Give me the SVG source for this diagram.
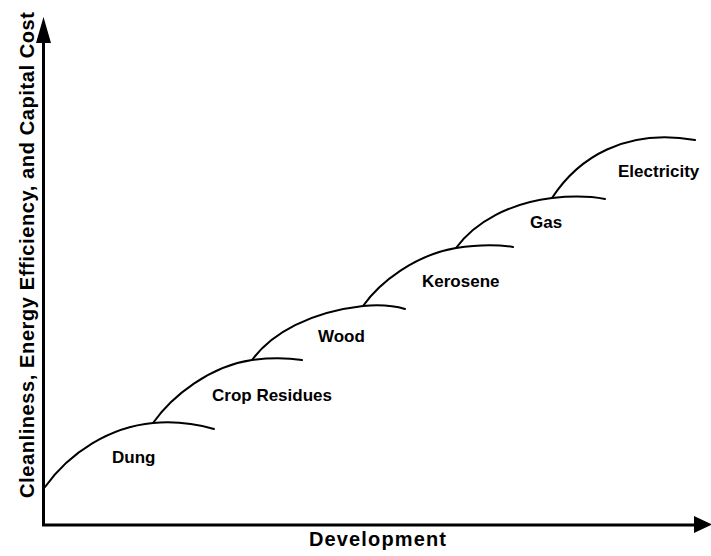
<svg xmlns="http://www.w3.org/2000/svg" width="711" height="556" viewBox="0 0 711 556">
  <style>
    .axis { stroke: #000; stroke-width: 3; fill: none; }
    .curve { stroke: #000; stroke-width: 2; fill: none; stroke-linecap: round; }
    .label { font-family: "Liberation Sans", Arial, sans-serif; font-weight: bold; font-size: 17px; fill: #000; }
    .axis-title { font-family: "Liberation Sans", Arial, sans-serif; font-weight: bold; font-size: 20px; fill: #000; }
  </style>
  <rect width="711" height="556" fill="#fff"/>

  <!-- axes -->
  <g id="axes">
    <path class="axis" d="M43.5,40 L43.5,525 L697,525"/>
    <polygon points="43.5,17 36,43 51,43" fill="#000"/>
    <polygon points="712,524.5 694,516 694,533" fill="#000"/>
    <text class="axis-title" transform="translate(34,498) rotate(-90)" textLength="486" lengthAdjust="spacing">Cleanliness, Energy Efficiency, and Capital Cost</text>
    <text class="axis-title" x="309" y="546" textLength="137" lengthAdjust="spacing">Development</text>
  </g>

  <!-- fuel ladder curves -->
  <g id="connectors">
    <path class="curve" d="M45,487 C70,452 110,427 153,423 C180,420.5 200,425 214,429"/>
    <path class="curve" d="M153,423 C172,396 210,366 252,360 C272,357.5 288,358 302,360"/>
    <path class="curve" d="M252,360 C272,333 310,312 363,306 C380,304.5 395,306 405,309"/>
    <path class="curve" d="M363,306 C380,282 415,255 456,248 C478,244.5 498,244.5 513,247"/>
    <path class="curve" d="M456,248 C475,222 510,203 552,198 C575,195.5 592,196.5 605,199"/>
    <path class="curve" d="M552,198 C578,158 625,128 695,140"/>
  </g>

  <!-- fuel labels -->
  <g id="dung"><text class="label" x="112" y="463">Dung</text></g>
  <g id="crop-residues"><text class="label" x="212" y="401">Crop Residues</text></g>
  <g id="wood"><text class="label" x="318" y="342">Wood</text></g>
  <g id="kerosene"><text class="label" x="422" y="287">Kerosene</text></g>
  <g id="gas"><text class="label" x="530" y="228">Gas</text></g>
  <g id="electricity"><text class="label" x="618" y="177">Electricity</text></g>
</svg>
